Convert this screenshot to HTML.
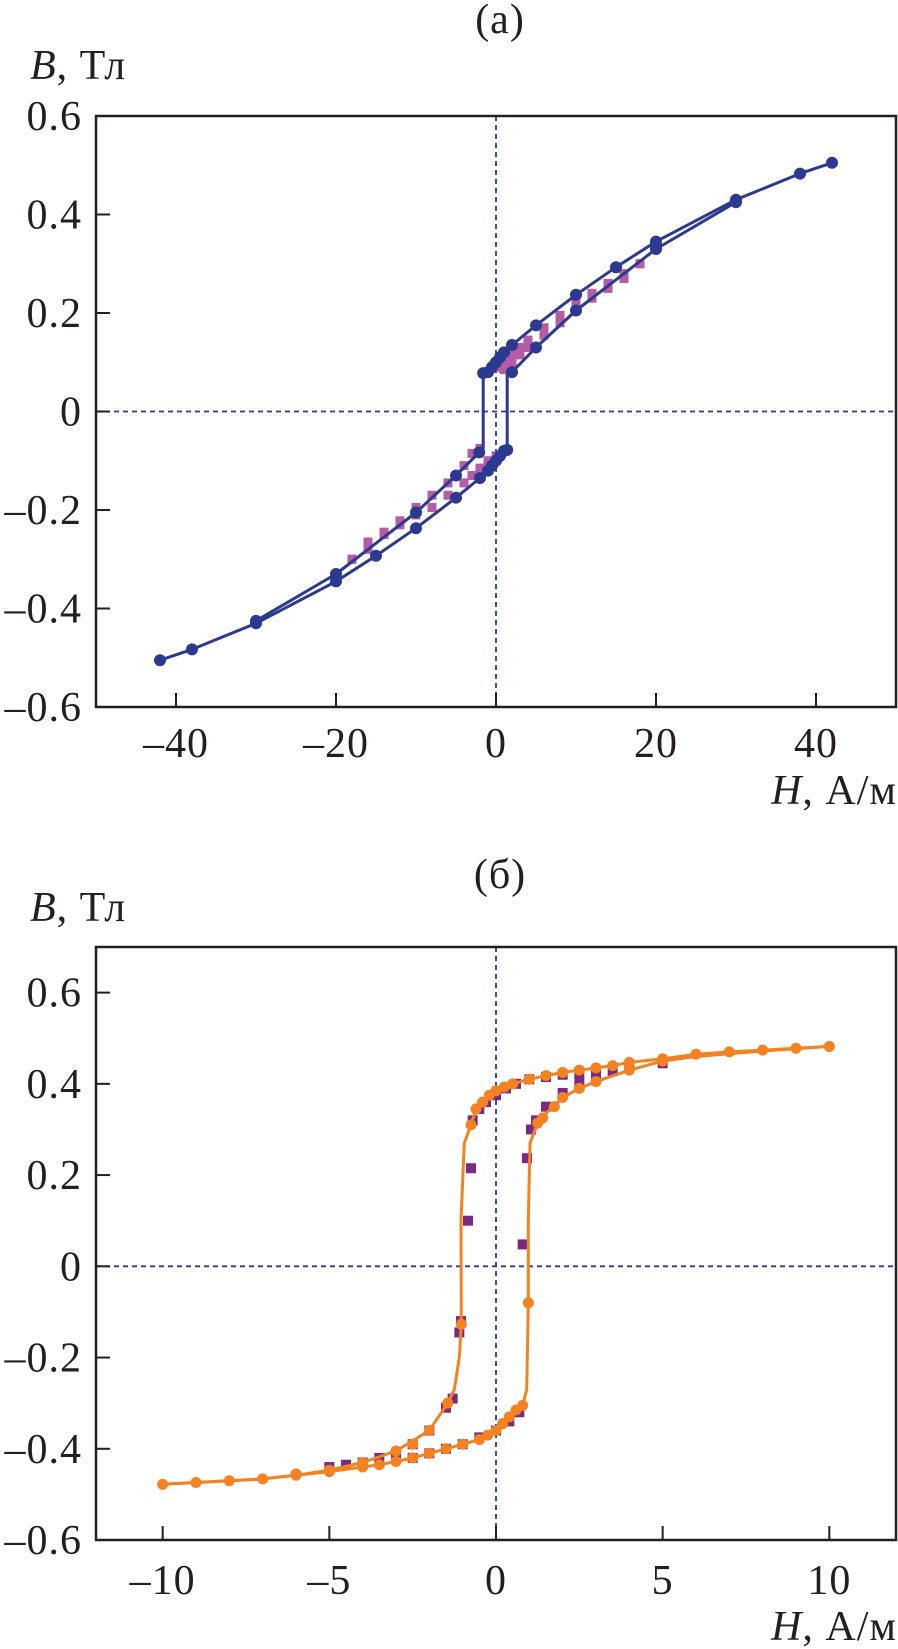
<!DOCTYPE html>
<html><head><meta charset="utf-8">
<style>
html,body{margin:0;padding:0;background:#fff;}
svg{display:block;font-family:"Liberation Serif",serif;}
.t{font-size:42px;fill:#231f20;letter-spacing:1px;}
</style></head>
<body>
<svg id="svg" width="898" height="1649" viewBox="0 0 898 1649" xmlns="http://www.w3.org/2000/svg">
</svg>
<script>
// ---------- Panel (a) data ----------
const aDescH = [42,38,30,20,15,10,5,2,1,0.5,0,-0.5,-1,-1.6];
const aDescB = [0.505,0.483,0.43,0.345,0.293,0.237,0.175,0.135,0.12,0.11,0.1,0.09,0.08,0.078];
const aAscH = [-42,-38,-30,-20,-15,-10,-5,-2,-1,-0.5,0,0.5,1,1.4];
const aAscB = [-0.505,-0.483,-0.43,-0.345,-0.293,-0.237,-0.175,-0.135,-0.12,-0.11,-0.1,-0.09,-0.08,-0.078];
const aJumpDescH = [-1.6,-1.6,-2.1,-5,-10,-20,-30];
const aJumpDescB = [0.078,-0.075,-0.083,-0.13,-0.205,-0.33,-0.425];
const aJumpAscH = [1.4,1.4,2,5,10,20,30];
const aJumpAscB = [-0.078,0.075,0.08,0.13,0.205,0.33,0.425];
const aSqH = [18,16,14,12,10,8,6,4,3,2,1,0,-1,-2,-3,-4,-6,-8,-10,-12,-14,-16,-18];
const aSqB1 = [0.3,0.28,0.26,0.24,0.222,0.195,0.17,0.145,0.13,0.115,0.1,0.09,0.08,-0.075,-0.085,-0.11,-0.145,-0.17,-0.195,-0.222,-0.245,-0.265,-0.3];
const aSqB2 = [0.3,0.27,0.25,0.23,0.21,0.18,0.155,0.13,0.115,0.1,0.085,-0.09,-0.1,-0.115,-0.13,-0.145,-0.17,-0.195,-0.21,-0.23,-0.25,-0.28,-0.3];
const aXTicks = [-40,-20,0,20,40];
const aXTickLabels = ["–40","–20","0","20","40"];
const aYTicks = [0.6,0.4,0.2,0,-0.2,-0.4,-0.6];
const aYTickLabels = ["0.6","0.4","0.2","0","–0.2","–0.4","–0.6"];

// ---------- Panel (б) data ----------
const bDescH = [10,9,8,7,6,5,4,3.5,3,2.5,2,1.5,1,0.5,0.25,0,-0.2,-0.4,-0.6,-0.75,-0.95,-1.05,-1.04,-1.1,-1.25,-1.45,-2,-3,-4,-5,-6,-7,-8,-9,-10];
const bDescB = [0.482,0.478,0.474,0.47,0.465,0.455,0.447,0.44,0.435,0.43,0.425,0.418,0.41,0.4,0.393,0.385,0.375,0.36,0.345,0.31,0.27,0.1,-0.127,-0.2,-0.27,-0.3,-0.36,-0.405,-0.43,-0.447,-0.458,-0.466,-0.47,-0.474,-0.478];
const bAscH = [-10,-9,-8,-7,-6,-5,-4,-3.5,-3,-2.5,-2,-1.5,-1,-0.5,-0.25,0,0.2,0.4,0.6,0.8,0.92,0.97,0.97,1.02,1.25,1.5,2,2.5,3,4,5,6,7,8,9,10];
const bAscB = [-0.478,-0.474,-0.47,-0.466,-0.458,-0.45,-0.44,-0.435,-0.428,-0.42,-0.41,-0.4,-0.39,-0.38,-0.37,-0.36,-0.345,-0.33,-0.315,-0.305,-0.27,-0.08,0.1,0.27,0.314,0.335,0.37,0.39,0.405,0.43,0.45,0.46,0.466,0.472,0.477,0.482];
const bDescDotsH = [10,9,8,7,6,5,4,3.5,3,2.5,2,1.5,1,0.5,0.25,0,-0.2,-0.4,-0.6,-0.75,-1.04,-1.45,-2,-2.5,-3,-4,-5,-6,-7,-8,-9,-10];
const bDescDotsB = [0.482,0.478,0.474,0.47,0.465,0.455,0.447,0.44,0.435,0.43,0.425,0.418,0.41,0.4,0.393,0.385,0.375,0.36,0.345,0.31,-0.127,-0.3,-0.36,-0.39,-0.405,-0.43,-0.447,-0.458,-0.466,-0.47,-0.474,-0.478];
const bAscDotsH = [-6,-5,-4,-3.5,-3,-2.5,-2,-1.5,-1,-0.5,-0.25,0,0.2,0.4,0.6,0.8,0.97,1.25,1.4,1.75,2,2.5,3,4,5];
const bAscDotsB = [-0.455,-0.45,-0.44,-0.435,-0.428,-0.42,-0.41,-0.4,-0.39,-0.38,-0.37,-0.36,-0.345,-0.33,-0.315,-0.305,-0.08,0.314,0.325,0.35,0.37,0.39,0.405,0.43,0.45];
const bSqH = [5,4,3.5,3,2.5,2,1.5,1.2,1.05,0.93,0.8,-0.75,-0.84,-1.05,-1.1,-1.3,-1.5,-2,-2.5,-3,-3.5,-4,-4.5,-5,-0.7,-0.5,-0.3,0,0.3,0.6,1,1.5,2,2.5,3,-2.5,-2,-1.5,-1,-0.5,0,0.4,0.7];
const bSqB = [0.445,0.44,0.428,0.42,0.405,0.38,0.35,0.32,0.3,0.237,0.048,0.215,0.1,-0.12,-0.145,-0.29,-0.31,-0.36,-0.39,-0.41,-0.42,-0.43,-0.435,-0.44,0.32,0.345,0.36,0.375,0.39,0.4,0.41,0.415,0.42,0.425,0.43,-0.42,-0.41,-0.4,-0.39,-0.375,-0.36,-0.34,-0.32];
const bXTicks = [-10,-5,0,5,10];
const bXTickLabels = ["–10","–5","0","5","10"];
const bYTicks = [0.6,0.4,0.2,0,-0.2,-0.4,-0.6];
const bYTickLabels = ["0.6","0.4","0.2","0","–0.2","–0.4","–0.6"];

const NS = "http://www.w3.org/2000/svg";
const svg = document.getElementById('svg');
function mk(tag, attrs, parent){
  const e = document.createElementNS(NS, tag);
  for (const k in attrs) e.setAttribute(k, attrs[k]);
  (parent||svg).appendChild(e);
  return e;
}
function txt(s, x, y, anchor, parent, cls){
  const e = mk('text', {x:x, y:y, 'text-anchor':anchor||'start', class:cls||'t'}, parent);
  e.textContent = s;
  return e;
}

function panel(cfg){
  const g = mk('g', {});
  
  
  const L=96, R=896, T=cfg.top, B=cfg.bottom;
  const sx = h => L + (h - cfg.xmin) / (cfg.xmax - cfg.xmin) * (R - L);
  const sy = v => B - (v - cfg.ymin) / (cfg.ymax - cfg.ymin) * (B - T);

  const zh = mk('line', {x1:L, x2:R, y1:sy(0), y2:sy(0), stroke:'#2b3990', 'stroke-width':1.8, 'stroke-dasharray':'5,4'}, g);
  
  
  const zv = mk('line', {x1:sx(0), x2:sx(0), y1:T, y2:B, stroke:'#2b3990', 'stroke-width':1.8, 'stroke-dasharray':'5,4'}, g);
  
  

  const box = mk('rect', {x:L, y:T, width:R-L, height:B-T, fill:'none', stroke:'#231f20', 'stroke-width':2.5}, g);
  
  

  cfg.xTicks.forEach((v,i)=>{
    const tk = mk('line', {x1:sx(v), x2:sx(v), y1:B, y2:B-14, stroke:'#231f20', 'stroke-width':2}, g);
    
    
    const lb = txt(cfg.xTickLabels[i], sx(v), cfg.xLabelY, 'middle', g);
    
    
  });
  cfg.yTicks.forEach((v,i)=>{
    const tk = mk('line', {x1:L, x2:L+14, y1:sy(v), y2:sy(v), stroke:'#231f20', 'stroke-width':2}, g);
    
    
    const lb = txt(cfg.yTickLabels[i], 82, sy(v)+14, 'end', g);
    
    
  });

  cfg.squares.forEach(s=>{
    s.H.forEach((h,i)=>{
      const r = mk('rect', {x:sx(h)-s.size/2, y:sy(s.B[i])-s.size/2, width:s.size, height:s.size, fill:s.color}, g);
      
      
    });
  });
  cfg.lines.forEach(l=>{
    const pts = l.H.map((h,i)=>sx(h).toFixed(1)+','+sy(l.B[i]).toFixed(1)).join(' ');
    const p = mk('polyline', {points:pts, fill:'none', stroke:l.color, 'stroke-width':3, 'stroke-linejoin':'round'}, g);
    
    
  });
  cfg.dots.forEach(d=>{
    d.H.forEach((h,i)=>{
      const c = mk('circle', {cx:sx(h), cy:sy(d.B[i]), r:d.r, fill:d.color}, g);
      
      
    });
  });
}

const NAVY = '#2b3990', PINK = '#b65ba6', ORANGE = '#f58220', PURPLE = '#7a2a84';

panel({name:'panel-a', top:116, bottom:707, xmin:-50, xmax:50, ymin:-0.6, ymax:0.6,
  xTicks:aXTicks, xTickLabels:aXTickLabels, yTicks:aYTicks, yTickLabels:aYTickLabels, xLabelY:757,
  squares:[{H:aSqH, B:aSqB1, size:9, color:PINK},{H:aSqH, B:aSqB2, size:9, color:PINK}],
  lines:[{H:aDescH,B:aDescB,color:NAVY,name:'descending-branch-line'},{H:aAscH,B:aAscB,color:NAVY,name:'ascending-branch-line'},
         {H:aJumpDescH,B:aJumpDescB,color:NAVY,name:'left-jump-line'},{H:aJumpAscH,B:aJumpAscB,color:NAVY,name:'right-jump-line'}],
  dots:[{H:aDescH,B:aDescB,r:6,color:NAVY},{H:aAscH,B:aAscB,r:6,color:NAVY},
        {H:aJumpDescH.slice(2),B:aJumpDescB.slice(2),r:6,color:NAVY},{H:aJumpAscH.slice(2),B:aJumpAscB.slice(2),r:6,color:NAVY}]
});

panel({name:'panel-b', top:947, bottom:1540, xmin:-12, xmax:12, ymin:-0.6, ymax:0.7,
  xTicks:bXTicks, xTickLabels:bXTickLabels, yTicks:bYTicks, yTickLabels:bYTickLabels, xLabelY:1594,
  squares:[{H:bSqH, B:bSqB, size:10, color:PURPLE}],
  lines:[{H:bDescH,B:bDescB,color:ORANGE,name:'descending-branch-line'},{H:bAscH,B:bAscB,color:ORANGE,name:'ascending-branch-line'}],
  dots:[{H:bDescDotsH,B:bDescDotsB,r:5.5,color:ORANGE},{H:bAscDotsH,B:bAscDotsB,r:5.5,color:ORANGE}]
});

function label(parts, x, y, anchor, name){
  const e = mk('text', {x:x, y:y, 'text-anchor':anchor, class:'t'});
  
  
  parts.forEach(p=>{
    const ts = mk('tspan', p.italic?{'font-style':'italic'}:{}, e);
    ts.textContent = p.s;
  });
}
label([{s:'(a)'}], 500, 33, 'middle', 'panel-a-title');
label([{s:'B',italic:true},{s:', Тл'}], 30, 79, 'start', 'panel-a-y-axis-title');
label([{s:'H',italic:true},{s:', А/м'}], 897, 804, 'end', 'panel-a-x-axis-title');
label([{s:'(б)'}], 500, 888, 'middle', 'panel-b-title');
label([{s:'B',italic:true},{s:', Тл'}], 30, 921, 'start', 'panel-b-y-axis-title');
label([{s:'H',italic:true},{s:', А/м'}], 897, 1640, 'end', 'panel-b-x-axis-title');
</script>
</body></html>
